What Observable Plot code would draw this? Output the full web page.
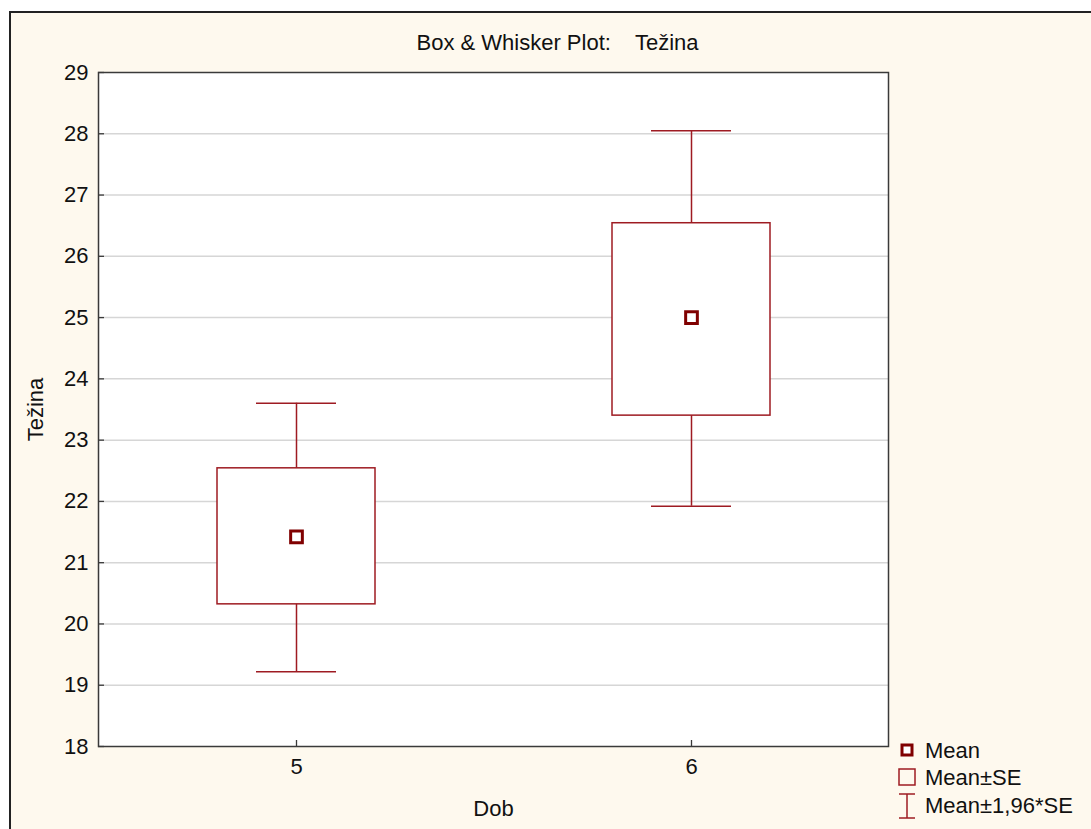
<!DOCTYPE html>
<html>
<head>
<meta charset="utf-8">
<script src="https://cdn.jsdelivr.net/npm/d3@7"></script>
<script src="https://cdn.jsdelivr.net/npm/@observablehq/plot@0.6"></script>
<style>
  html, body { margin: 0; padding: 0; background: #ffffff; }
  body { width: 1091px; height: 829px; position: relative; overflow: hidden; font-family: "Liberation Sans", Arial, sans-serif; }
  #panel { position: absolute; left: 9px; top: 11px; width: 1082px; height: 818px; box-sizing: border-box;
           border-left: 2px solid #222; border-top: 2px solid #222; background: #fef9ee; }
  #chart { position: absolute; left: 0; top: 0; }
  #legend { position: absolute; left: 0; top: 0; }
</style>
</head>
<body>
<div id="panel"></div>
<div id="chart"></div>
<svg id="legend" width="1091" height="829" xmlns="http://www.w3.org/2000/svg"></svg>
<script>
// ---- data ----
const dobs = ["5", "6"];
const means = [21.42, 25.0];
const seLow = [20.32, 23.40];
const seHigh = [22.54, 26.54];
const ciLow = [19.22, 21.92];
const ciHigh = [23.60, 28.05];
const yTicks = [18, 19, 20, 21, 22, 23, 24, 25, 26, 27, 28, 29];
const titleText = "Box & Whisker Plot:\u00a0\u00a0\u00a0 Težina";
const xLabel = "Dob";
const yLabel = "Težina";
const legendLabels = ["Mean", "Mean±SE", "Mean±1,96*SE"];

const rows = dobs.map((d, i) => ({
  dob: d, mean: means[i], seLo: seLow[i], seHi: seHigh[i], lo: ciLow[i], hi: ciHigh[i]
}));

const boxColor = "#9e1b22";
const meanColor = "#800000";
const FS = 22;
const W = 1091, H = 829, mL = 98, mR = 203, mT = 72, mB = 83;
const fw = W - mL - mR, fh = H - mT - mB;

const chart = Plot.plot({
  width: W, height: H,
  marginLeft: mL, marginRight: mR, marginTop: mT, marginBottom: mB,
  style: { background: "transparent", fontFamily: "'Liberation Sans', Arial, sans-serif", fontSize: FS + "px", color: "#111" },
  x: { type: "band", domain: dobs, paddingInner: 0.6, paddingOuter: 0.3, axis: null },
  y: { domain: [18, 29], axis: null },
  marks: [
    Plot.frame({ fill: "white", stroke: null }),
    Plot.gridY(yTicks.slice(1, -1), { stroke: "#d6d6d6", strokeOpacity: 1, strokeWidth: 1.5 }),
    Plot.ruleX(rows, { x: "dob", y1: "lo", y2: "hi", stroke: boxColor, strokeWidth: 1.5 }),
    Plot.tickY(rows, { x: "dob", y: "lo", stroke: boxColor, strokeWidth: 1.5, insetLeft: 39, insetRight: 39 }),
    Plot.tickY(rows, { x: "dob", y: "hi", stroke: boxColor, strokeWidth: 1.5, insetLeft: 39, insetRight: 39 }),
    Plot.barY(rows, { x: "dob", y1: "seLo", y2: "seHi", fill: "white", stroke: boxColor, strokeWidth: 1.5 }),
    Plot.dot(rows, { x: "dob", y: "mean", symbol: "square", r: 6.6, fill: "white", stroke: meanColor, strokeWidth: 3 }),
    Plot.frame({ stroke: "#3a3a3a", strokeWidth: 1.5 }),
    // inward ticks
    Plot.ruleY(yTicks, { y: d => d, stroke: "#3a3a3a", strokeWidth: 1.3, insetRight: fw - 6 }),
    Plot.ruleX(dobs, { x: d => d, stroke: "#3a3a3a", strokeWidth: 1.3, insetTop: fh - 6 }),
    Plot.axisY({ ticks: yTicks, tickSize: 0, tickPadding: 10, label: null, fontSize: FS, fill: "#111" }),
    Plot.axisX({ tickSize: 0, tickPadding: 12, label: null, fontSize: FS, fill: "#111" }),
    Plot.text([titleText], { frameAnchor: "top", textAnchor: "middle", dx: 64, dy: -30, lineAnchor: "middle", fontSize: FS, fill: "#111" }),
    Plot.text([xLabel], { frameAnchor: "bottom", textAnchor: "middle", dy: 62, lineAnchor: "middle", fontSize: FS, fill: "#111" }),
    Plot.text([yLabel], { frameAnchor: "left", textAnchor: "middle", dx: -63, rotate: -90, lineAnchor: "middle", fontSize: FS, fill: "#111" })
  ]
});
document.getElementById("chart").appendChild(chart);

// ---- legend ----
const lg = d3.select("#legend");
const lx = 907, rowsY = [750, 777, 805];
lg.append("rect").attr("x", lx - 5).attr("y", rowsY[0] - 5).attr("width", 10).attr("height", 10)
  .attr("fill", "white").attr("stroke", meanColor).attr("stroke-width", 3);
lg.append("rect").attr("x", lx - 8).attr("y", rowsY[1] - 8).attr("width", 16).attr("height", 16)
  .attr("fill", "none").attr("stroke", boxColor).attr("stroke-width", 1.5);
const iy1 = rowsY[2] - 11, iy2 = rowsY[2] + 13;
lg.append("line").attr("x1", lx).attr("x2", lx).attr("y1", iy1).attr("y2", iy2).attr("stroke", boxColor).attr("stroke-width", 1.5);
lg.append("line").attr("x1", lx - 8).attr("x2", lx + 8).attr("y1", iy1).attr("y2", iy1).attr("stroke", boxColor).attr("stroke-width", 1.5);
lg.append("line").attr("x1", lx - 8).attr("x2", lx + 8).attr("y1", iy2).attr("y2", iy2).attr("stroke", boxColor).attr("stroke-width", 1.5);
legendLabels.forEach((t, i) => {
  lg.append("text").attr("x", 925).attr("y", rowsY[i]).attr("dy", "0.35em")
    .attr("font-family", "'Liberation Sans', Arial, sans-serif").attr("font-size", FS).attr("fill", "#111").text(t);
});
</script>
</body>
</html>
